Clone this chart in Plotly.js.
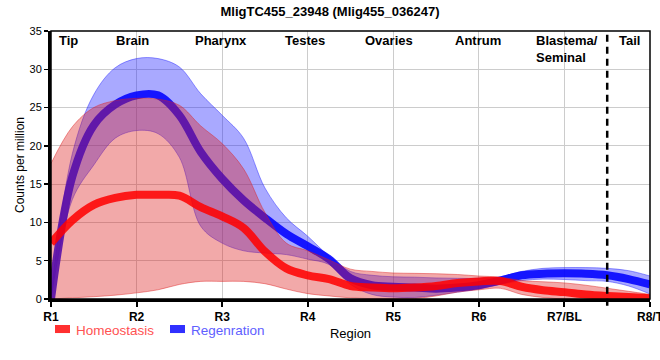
<!DOCTYPE html>
<html>
<head>
<meta charset="utf-8">
<script src="https://cdn.plot.ly/plotly-3.0.1.min.js"></script>
<style>html,body{margin:0;padding:0;background:#fff;}#chart{width:660px;height:360px;}</style>
</head>
<body>
<div id="chart"></div>
<script>
// ---- data ----
const positions = [1,1.25,1.5,1.75,2,2.25,2.5,2.75,3,3.25,3.5,3.75,4,4.25,4.5,4.75,5,5.25,5.5,5.75,6,6.25,6.5,6.75,7,7.25,7.5,7.75,8];
const tickValues = [1,2,3,4,5,6,7,8];
const tickLabels = ["R1","R2","R3","R4","R5","R6","R7/BL","R8/T"];
const regionNames = ["Tip","Brain","Pharynx","Testes","Ovaries","Antrum","Blastema/<br>Seminal","Tail"];
const boundary = 7.5;

const homeoMean  = [7.3,10.3,12.3,13.2,13.6,13.6,13.5,12.0,10.8,9.3,6.2,4.0,3.1,2.6,1.7,1.5,1.4,1.5,1.7,2.1,2.3,2.35,1.6,1.15,0.9,0.6,0.4,0.25,0.1];
const homeoUpper = [17.7,22.5,25.0,25.9,26.2,26.1,25.3,22.6,20.3,17.0,11.3,7.3,6.3,5.1,3.9,3.6,3.4,3.35,3.3,3.2,3.0,2.85,2.4,2.25,2.1,1.8,1.4,1.0,0.6];
const homeoLower = [0,0.15,0.3,0.5,0.8,1.2,1.9,2.3,2.3,2.3,2.0,1.3,0.7,0.4,0.15,0.05,0.0,0.05,0.4,0.9,1.2,1.4,0.6,0.2,0.0,-0.1,-0.2,-0.3,-0.4];

const regenMean  = [0,16.0,22.7,25.4,26.6,26.6,24.0,19.2,15.7,12.9,10.6,8.5,6.9,5.2,2.7,1.8,1.6,1.5,1.35,1.5,1.8,2.4,3.1,3.3,3.35,3.3,3.1,2.6,1.9];
const regenUpper = [0.5,19.0,26.7,30.2,31.4,31.4,30.3,26.8,24.0,21.0,14.5,10.6,8.2,5.6,3.6,3.1,2.9,2.85,2.75,2.7,2.7,2.9,3.6,4.0,4.1,4.1,4.0,3.7,3.0];
const regenLower = [0,13.0,17.5,21.0,22.0,21.6,18.5,9.5,7.3,6.3,6.0,5.8,5.2,4.5,1.9,0.6,0.25,0.2,0.5,0.9,1.3,1.9,2.4,2.6,2.55,2.4,2.3,1.7,0.65];

const seriesNames = ["Homeostasis","Regenration"];

// ---- styling ----
const FONT = "Liberation Sans, Arial, sans-serif";
const RED = "rgba(255,0,0,0.86)";
const BLUE = "rgba(0,0,255,0.88)";
const RED_FILL = "rgba(222,30,30,0.38)";
const BLUE_FILL = "rgba(30,30,255,0.38)";

function band(lower, upper, fillColor, edgeColor, name) {
  return [
    {x: positions, y: lower, mode: "lines", line: {shape: "spline", width: 1, color: edgeColor}, hoverinfo: "skip", showlegend: false, name: name + " lower"},
    {x: positions, y: upper, mode: "lines", fill: "tonexty", fillcolor: fillColor, line: {shape: "spline", width: 1, color: edgeColor}, hoverinfo: "skip", showlegend: false, name: name + " upper"}
  ];
}

const traces = [
  ...band(regenLower, regenUpper, BLUE_FILL, "rgba(30,30,255,0.45)", seriesNames[1]),
  {x: positions, y: regenMean, mode: "lines", line: {shape: "spline", width: 8, color: BLUE}, name: seriesNames[1], showlegend: false},
  ...band(homeoLower, homeoUpper, RED_FILL, "rgba(222,30,30,0.45)", seriesNames[0]),
  {x: positions, y: homeoMean, mode: "lines", line: {shape: "spline", width: 8, color: RED}, name: seriesNames[0], showlegend: false}
];

const labelX = [1.21,1.958,2.987,3.968,4.95,5.99,6.645,7.766];
const annotations = regionNames.map((t, i) => ({
  x: labelX[i], xref: "x", y: 1, yref: "paper", yanchor: "top",
  xanchor: i === 6 ? "left" : "center", align: "left",
  text: t, showarrow: false, yshift: 0,
  font: {family: FONT, size: 13, weight: "bold", color: "#000"}
}));

// custom legend
annotations.push(
  {x: 0.0384, xref: "paper", y: -0.116, yref: "paper", xanchor: "left", yanchor: "middle", showarrow: false, text: seriesNames[0], font: {family: FONT, size: 13.5, color: "#ff5252"}},
  {x: 0.2304, xref: "paper", y: -0.116, yref: "paper", xanchor: "left", yanchor: "middle", showarrow: false, text: seriesNames[1], font: {family: FONT, size: 13.5, color: "#6060ff"}}
);

const shapes = [
  {type: "rect", xref: "paper", yref: "paper", x0: 0, x1: 1, y0: 0, y1: 1, line: {color: "#000", width: 1.5}, layer: "above"},
  {type: "line", xref: "x", yref: "paper", x0: boundary, x1: boundary, y0: -0.025, y1: 1, line: {color: "#000", width: 2.5, dash: "7px,5px"}, layer: "above"},
  {type: "rect", xref: "paper", yref: "paper", x0: 0.0067, x1: 0.0317, y0: -0.127, y1: -0.097, fillcolor: "#ff3030", line: {width: 0}},
  {type: "rect", xref: "paper", yref: "paper", x0: 0.1987, x1: 0.2237, y0: -0.127, y1: -0.097, fillcolor: "#3030ff", line: {width: 0}}
];

const layout = {
  width: 660, height: 360,
  margin: {l: 51, r: 10, t: 31, b: 61},
  paper_bgcolor: "#fff", plot_bgcolor: "#fff",
  showlegend: false,
  font: {family: FONT, color: "#000"},
  title: {text: "MligTC455_23948 (Mlig455_036247)", x: 0.5, xref: "container", y: 1 - 11/360, yref: "container", yanchor: "middle",
          font: {family: FONT, size: 13, weight: "bold", color: "#000"}},
  xaxis: {
    range: [1, 8], tickvals: tickValues, ticktext: tickLabels,
    showgrid: true, gridcolor: "#cccccc", gridwidth: 1, zeroline: false,
    showline: true, linecolor: "#000", linewidth: 3,
    ticks: "outside", ticklen: 5, tickwidth: 2, tickcolor: "#000",
    ticklabeloverflow: "allow",
    tickfont: {family: FONT, size: 12, weight: "bold", color: "#000"},
    title: {text: "Region", standoff: 6, font: {family: FONT, size: 13, color: "#000"}}
  },
  yaxis: {
    range: [0, 35], tickvals: [0,5,10,15,20,25,30,35],
    showgrid: true, gridcolor: "#cccccc", gridwidth: 1, zeroline: false,
    showline: true, linecolor: "#000", linewidth: 3,
    ticks: "outside", ticklen: 4, tickwidth: 1.5, tickcolor: "#000",
    tickfont: {family: FONT, size: 11, color: "#000"},
    title: {text: "Counts per million", standoff: 3, font: {family: FONT, size: 12, color: "#000"}}
  },
  annotations: annotations,
  shapes: shapes
};

Plotly.newPlot("chart", traces, layout, {displayModeBar: false, staticPlot: true});
</script>
</body>
</html>
